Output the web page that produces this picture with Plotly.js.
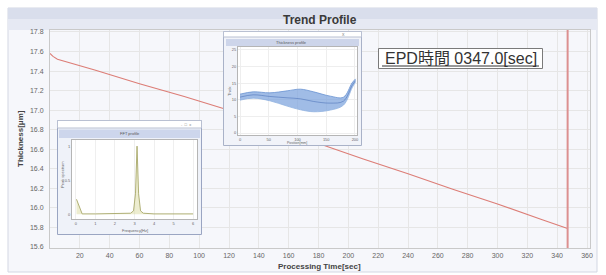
<!DOCTYPE html>
<html>
<head>
<meta charset="utf-8">
<script src="https://cdn.plot.ly/plotly-3.0.1.min.js"></script>
<style>html,body{margin:0;padding:0;background:#fff;}#chart{width:606px;height:275px;}</style>
</head>
<body>
<div id="chart"></div>
<script>
// ---- main trend data ----
const trendTime = [0, 2, 5, 30, 60, 90, 120, 150, 180, 210, 240, 270, 300, 330, 347];
const trendThickness = [17.58, 17.55, 17.52, 17.41, 17.27, 17.14, 17.00, 16.83, 16.66, 16.50, 16.35, 16.19, 16.04, 15.88, 15.79];
const epdTime = 347.0;
const xTicks = [20, 40, 60, 80, 100, 120, 140, 160, 180, 200, 220, 240, 260, 280, 300, 320, 340, 360];
const yTicks = [15.6, 15.8, 16.0, 16.2, 16.4, 16.6, 16.8, 17.0, 17.2, 17.4, 17.6, 17.8];

// ---- thickness profile inset ----
const profilePos = [0, 23, 52, 82, 105, 128, 157, 180, 195, 201];
const profileUpper = [11.7, 12.4, 12.1, 12.7, 13.2, 12.4, 11.1, 10.8, 15.1, 16.3];
const profileMid = [10.8, 11.5, 11.0, 10.6, 10.3, 9.5, 9.0, 9.6, 14.3, 15.8];
const profileLower = [9.9, 10.5, 9.7, 8.1, 7.0, 6.4, 6.9, 8.4, 13.6, 15.4];
const profileXTicks = [0, 50, 100, 150, 200];
const profileYTicks = [0, 5, 10, 15, 20, 25];

// ---- FFT inset ----
const fftFreq = [0.03, 0.15, 0.32, 1.0, 2.0, 2.8, 2.95, 3.05, 3.13, 3.21, 3.31, 3.45, 4.0, 5.0, 6.0];
const fftAmp = [0.22, 0.12, 0.005, 0.005, 0.005, 0.015, 0.05, 0.3, 1.0, 0.3, 0.05, 0.015, 0.005, 0.005, 0.005];
const fftXTicks = [0, 1, 2, 3, 4, 5, 6];
const fftYTicks = [0, 0.5, 1];

const W = 606, H = 275;
const fx = p => p / W;
const fy = p => 1 - p / H;

const FONT = "Liberation Sans, Arial, 'Noto Sans CJK JP', sans-serif";

const traces = [
  {x: trendTime, y: trendThickness, xaxis: 'x', yaxis: 'y', type: 'scatter', mode: 'lines',
   line: {color: '#dc7d76', width: 1.1}, hoverinfo: 'skip'},
  {x: [null], y: [null], xaxis: 'x2', yaxis: 'y2', type: 'scatter', mode: 'lines', hoverinfo: 'skip'},
  {x: profilePos, y: profileLower, xaxis: 'x3', yaxis: 'y3', type: 'scatter', mode: 'lines',
   line: {color: '#8fb1e0', width: 0.8, shape: 'spline'}, hoverinfo: 'skip'},
  {x: profilePos, y: profileUpper, xaxis: 'x3', yaxis: 'y3', type: 'scatter', mode: 'lines', fill: 'tonexty',
   fillcolor: 'rgba(120,160,220,0.7)', line: {color: '#6a93d2', width: 0.8, shape: 'spline'}, hoverinfo: 'skip'},
  {x: profilePos, y: profileMid, xaxis: 'x3', yaxis: 'y3', type: 'scatter', mode: 'lines',
   line: {color: 'rgba(60,100,175,0.6)', width: 0.8, shape: 'spline'}, hoverinfo: 'skip'},
  {x: [null], y: [null], xaxis: 'x4', yaxis: 'y4', type: 'scatter', mode: 'lines', hoverinfo: 'skip'},
  {x: fftFreq, y: fftAmp, xaxis: 'x5', yaxis: 'y5', type: 'scatter', mode: 'lines', fill: 'tozeroy',
   fillcolor: 'rgba(215,215,150,0.45)', line: {color: '#a8a86a', width: 0.9}, hoverinfo: 'skip'}
];

const tickFont = {family: FONT, size: 7, color: '#666'};
const tinyFont = {family: FONT, size: 4, color: '#666'};

function ann(text, px, py, size, color, extra) {
  return Object.assign({text: text, xref: 'paper', yref: 'paper', x: fx(px), y: fy(py),
    xanchor: 'center', yanchor: 'middle', showarrow: false,
    font: {family: FONT, size: size, color: color}}, extra || {});
}

const epdLabel = 'EPD時間 ' + epdTime.toFixed(1).padStart(6, '0') + '[sec]';

const layout = {
  width: W, height: H,
  margin: {l: 0, r: 0, t: 0, b: 0},
  paper_bgcolor: '#ffffff',
  plot_bgcolor: '#ffffff',
  showlegend: false,
  xaxis: {domain: [fx(50), fx(590)], range: [0, 362], anchor: 'y',
    tickvals: xTicks, ticktext: xTicks.map(String), tickfont: tickFont,
    ticks: 'outside', ticklen: 1, tickcolor: 'rgba(0,0,0,0)',
    showgrid: true, gridcolor: '#e6e6e6', gridwidth: 1,
    showline: true, mirror: true, linecolor: '#c9c9c9', zeroline: false},
  yaxis: {domain: [fy(248), fy(30)], range: [15.59, 17.82], anchor: 'x',
    tickvals: yTicks, ticktext: yTicks.map(v => v.toFixed(1)), tickfont: tickFont,
    ticks: 'outside', ticklen: 4, tickcolor: 'rgba(0,0,0,0)',
    showgrid: true, gridcolor: '#e6e6e6', gridwidth: 1,
    showline: true, mirror: true, linecolor: '#c9c9c9', zeroline: false},
  // window 1 frame (pixel units)
  xaxis2: {domain: [fx(223), fx(362)], range: [223, 362], anchor: 'y2', visible: false},
  yaxis2: {domain: [fy(146), fy(31)], range: [146, 31], anchor: 'x2', visible: false},
  // thickness profile plot
  xaxis3: {domain: [fx(238), fx(357)], range: [-3.5, 203.5], anchor: 'y3',
    tickvals: profileXTicks, tickfont: tinyFont, ticks: '', showgrid: true, gridcolor: '#eeeeee',
    showline: true, mirror: true, linecolor: '#b5b5b5', zeroline: false},
  yaxis3: {domain: [fy(135), fy(47)], range: [-0.6, 25.9], anchor: 'x3',
    tickvals: profileYTicks, tickfont: tinyFont, ticks: '', showgrid: true, gridcolor: '#eeeeee',
    showline: true, mirror: true, linecolor: '#b5b5b5', zeroline: false},
  // window 2 frame
  xaxis4: {domain: [fx(57), fx(202)], range: [57, 202], anchor: 'y4', visible: false},
  yaxis4: {domain: [fy(235), fy(120)], range: [235, 120], anchor: 'x4', visible: false},
  // FFT plot
  xaxis5: {domain: [fx(72), fx(197)], range: [-0.2, 6.2], anchor: 'y5',
    tickvals: fftXTicks, tickfont: tinyFont, ticks: '', showgrid: true, gridcolor: '#efefef',
    showline: true, mirror: true, linecolor: '#b5b5b5', zeroline: false},
  yaxis5: {domain: [fy(219), fy(140)], range: [-0.07, 1.09], anchor: 'x5',
    tickvals: fftYTicks, tickfont: tinyFont, ticks: '', showgrid: false,
    showline: true, mirror: true, linecolor: '#b5b5b5', zeroline: false},
  shapes: [
    // outer frame and title band (paper)
    {type: 'rect', xref: 'paper', yref: 'paper', x0: fx(8), x1: fx(597), y0: fy(272), y1: fy(8),
     fillcolor: '#f6f7fb', line: {color: '#d3d7e3', width: 1}, layer: 'below'},
    {type: 'rect', xref: 'paper', yref: 'paper', x0: fx(8), x1: fx(597), y0: fy(19), y1: fy(8),
     fillcolor: '#d9deec', line: {width: 0}, layer: 'below'},
    {type: 'rect', xref: 'paper', yref: 'paper', x0: fx(8), x1: fx(597), y0: fy(30), y1: fy(19),
     fillcolor: '#e6e9f3', line: {width: 0}, layer: 'below'},
    // EPD vertical line
    {type: 'line', xref: 'x', yref: 'y domain', x0: epdTime, x1: epdTime, y0: 0, y1: 1,
     line: {color: '#dc9090', width: 2}, layer: 'above'},
    // EPD label box and underline
    {type: 'rect', xref: 'paper', yref: 'paper', x0: fx(378.5), x1: fx(542.5), y0: fy(68.5), y1: fy(48.5),
     fillcolor: '#ffffff', line: {color: '#7a7a7a', width: 1}, layer: 'above'},
    {type: 'line', xref: 'paper', yref: 'paper', x0: fx(382), x1: fx(539), y0: fy(66), y1: fy(66),
     line: {color: '#333', width: 1}, layer: 'above'},
    // window 1
    {type: 'rect', xref: 'x2', yref: 'y2', x0: 223.5, x1: 361.5, y0: 31.5, y1: 145.5,
     fillcolor: '#f1f3f9', line: {color: '#a9b2c8', width: 1}, layer: 'below'},
    {type: 'rect', xref: 'x2', yref: 'y2', x0: 223.5, x1: 361.5, y0: 31.5, y1: 37,
     fillcolor: '#ffffff', line: {color: '#b9c0d2', width: 1}, layer: 'below'},
    {type: 'rect', xref: 'x2', yref: 'y2', x0: 226, x1: 359, y0: 39, y1: 46,
     fillcolor: '#cdd5ea', line: {width: 0}, layer: 'below'},
    // window 2
    {type: 'rect', xref: 'x4', yref: 'y4', x0: 57.5, x1: 201.5, y0: 120.5, y1: 234.5,
     fillcolor: '#eff2f9', line: {color: '#9aa5c2', width: 1}, layer: 'below'},
    {type: 'rect', xref: 'x4', yref: 'y4', x0: 57.5, x1: 201.5, y0: 120.5, y1: 128,
     fillcolor: '#ffffff', line: {color: '#b9c0d2', width: 1}, layer: 'below'},
    {type: 'rect', xref: 'x4', yref: 'y4', x0: 59, x1: 200, y0: 129.5, y1: 138,
     fillcolor: '#cdd6ec', line: {width: 0}, layer: 'below'}
  ],
  annotations: [
    ann('<b>Trend Profile</b>', 320, 20, 12, '#3a3a3a'),
    ann('<b>Processing Time[sec]</b>', 320, 266.5, 8, '#444'),
    ann('<b>Thickness[μm]</b>', 20, 138, 8, '#444', {textangle: -90}),
    ann(epdLabel, 461, 58, 16, '#333'),
    // window 1 texts
    ann('Thickness profile', 291, 42.5, 4, '#555'),
    ann('x', 343, 34, 5, '#888'),
    ann('Position[mm]', 297, 143.3, 3.5, '#666'),
    ann('Thick', 229, 91, 4, '#666', {textangle: -90}),
    // window 2 texts
    ann('FFT profile', 130, 133.5, 4, '#555'),
    ann('-  □  x', 186, 124, 4, '#888'),
    ann('Frequency[Hz]', 135, 230.5, 4, '#666'),
    ann('Peak spectrum', 62, 175, 4, '#666', {textangle: -90})
  ]
};

Plotly.newPlot('chart', traces, layout, {staticPlot: true, displayModeBar: false});
</script>
</body>
</html>
